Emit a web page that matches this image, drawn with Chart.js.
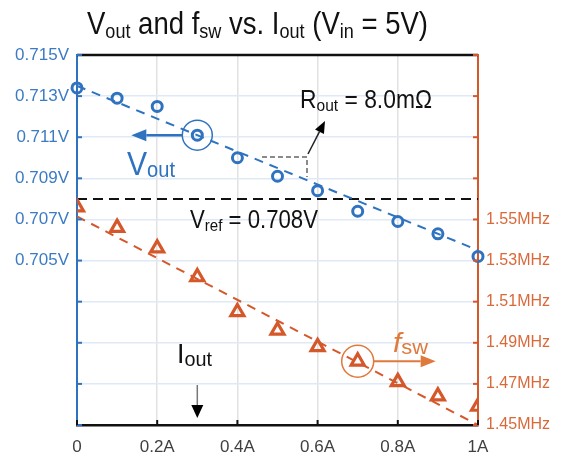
<!DOCTYPE html>
<html>
<head>
<meta charset="utf-8">
<script src="https://cdn.jsdelivr.net/npm/chart.js@4.4.0/dist/chart.umd.min.js"></script>
<style>
  html, body { margin: 0; padding: 0; background: #fff; }
  #wrap { width: 563px; height: 462px; }
</style>
</head>
<body>
<div id="wrap"><canvas id="chart"></canvas></div>
<script>
// measured data
const ioutA = [0, 0.1, 0.2, 0.3, 0.4, 0.5, 0.6, 0.7, 0.8, 0.9, 1.0];
const voutV = [0.7134, 0.7129, 0.7125, 0.7111, 0.7100, 0.7091, 0.7084, 0.7074, 0.7069, 0.7063, 0.7052];
const fswMHz = [1.556, 1.546, 1.536, 1.522, 1.505, 1.496, 1.488, 1.481, 1.471, 1.464, 1.459];

// fitted trend lines (at 0 A and 1 A) and reference
const fitI = [0, 1];
const voutFit = [0.7135, 0.7055];
const fswFit = [1.5515, 1.45];
const vref = 0.708;

// axis ticks
const xTicks = [0, 0.2, 0.4, 0.6, 0.8, 1];
const xTickLabels = ['0', '0.2A', '0.4A', '0.6A', '0.8A', '1A'];
const voltTicks = [0.697, 0.699, 0.701, 0.703, 0.705, 0.707, 0.709, 0.711, 0.713, 0.715];
const voltTickLabels = ['', '', '', '', '0.705V', '0.707V', '0.709V', '0.711V', '0.713V', '0.715V'];
const freqTicks = [1.45, 1.47, 1.49, 1.51, 1.53, 1.55, 1.57, 1.59, 1.61, 1.63];
const freqTickLabels = ['1.45MHz', '1.47MHz', '1.49MHz', '1.51MHz', '1.53MHz', '1.55MHz', '', '', '', ''];

const BLUE = '#2f73c0';
const ORANGE = '#d5582a';
const FONT = "'Liberation Sans', Arial, sans-serif";

const pts = (xs, ys) => xs.map((v, i) => ({ x: v, y: ys[i] }));

function rich(ctx, parts, x, y, targetW) {
  ctx.save();
  let w = 0;
  parts.forEach(p => {
    ctx.font = (p.it ? 'italic ' : '') + p.s + 'px ' + FONT;
    p.w = ctx.measureText(p.t).width;
    w += p.w;
  });
  ctx.translate(x, y);
  ctx.scale(targetW / w, 1);
  ctx.textBaseline = 'alphabetic';
  let cx = 0;
  parts.forEach(p => {
    ctx.font = (p.it ? 'italic ' : '') + p.s + 'px ' + FONT;
    ctx.fillStyle = p.c;
    ctx.fillText(p.t, cx, p.dy || 0);
    cx += p.w;
  });
  ctx.restore();
}

function arrow(ctx, x1, y1, x2, y2, lineCol, headCol, lw, hl, hw) {
  const ang = Math.atan2(y2 - y1, x2 - x1);
  const bx = x2 - hl * Math.cos(ang), by = y2 - hl * Math.sin(ang);
  ctx.save();
  ctx.strokeStyle = lineCol;
  ctx.lineWidth = lw;
  ctx.beginPath();
  ctx.moveTo(x1, y1);
  ctx.lineTo(bx, by);
  ctx.stroke();
  ctx.fillStyle = headCol;
  ctx.beginPath();
  ctx.moveTo(x2, y2);
  ctx.lineTo(bx + hw / 2 * Math.sin(ang), by - hw / 2 * Math.cos(ang));
  ctx.lineTo(bx - hw / 2 * Math.sin(ang), by + hw / 2 * Math.cos(ang));
  ctx.closePath();
  ctx.fill();
  ctx.restore();
}

// inward tick marks + top frame line
const frame = {
  id: 'frame',
  afterDraw(chart) {
    const { ctx, chartArea: a, scales } = chart;
    ctx.save();
    ctx.lineWidth = 2.5;
    ctx.strokeStyle = '#111';
    ctx.beginPath();
    ctx.moveTo(a.left, a.top);
    ctx.lineTo(a.right, a.top);
    ctx.stroke();
    ctx.lineWidth = 2;
    ctx.strokeStyle = BLUE;
    voltTicks.forEach(v => {
      const py = scales.y.getPixelForValue(v);
      ctx.beginPath(); ctx.moveTo(a.left, py); ctx.lineTo(a.left + 5, py); ctx.stroke();
    });
    ctx.strokeStyle = ORANGE;
    freqTicks.forEach(v => {
      const py = scales.y1.getPixelForValue(v);
      ctx.beginPath(); ctx.moveTo(a.right, py); ctx.lineTo(a.right - 5, py); ctx.stroke();
    });
    ctx.strokeStyle = '#111';
    xTicks.forEach(v => {
      const px = scales.x.getPixelForValue(v);
      ctx.beginPath(); ctx.moveTo(px, a.bottom); ctx.lineTo(px, a.bottom - 5); ctx.stroke();
    });
    ctx.restore();
  }
};

// title and callouts
const notes = {
  id: 'notes',
  afterDraw(chart) {
    const { ctx, scales: { x, y, y1 } } = chart;
    const K = '#111';

    rich(ctx, [
      { t: 'V', s: 32, c: K }, { t: 'out', s: 21, c: K, dy: 4 },
      { t: ' and f', s: 32, c: K }, { t: 'sw', s: 21, c: K, dy: 4 },
      { t: ' vs. I', s: 32, c: K }, { t: 'out', s: 21, c: K, dy: 4 },
      { t: ' (V', s: 32, c: K }, { t: 'in', s: 21, c: K, dy: 4 },
      { t: ' = 5V)', s: 32, c: K }
    ], 87, 34, 341);

    rich(ctx, [
      { t: 'R', s: 25, c: K }, { t: 'out', s: 17, c: K, dy: 3 },
      { t: ' = 8.0m\u03A9', s: 25, c: K }
    ], 300, 108, 132);

    rich(ctx, [
      { t: 'V', s: 25, c: K }, { t: 'ref', s: 17, c: K, dy: 3 },
      { t: ' = 0.708V', s: 25, c: K }
    ], 190, 228, 128);

    rich(ctx, [
      { t: 'V', s: 33, c: BLUE }, { t: 'out', s: 22, c: BLUE, dy: 2 }
    ], 127, 175, 48);

    rich(ctx, [
      { t: 'I', s: 27, c: K }, { t: 'out', s: 20, c: K, dy: 3 }
    ], 177, 363, 35);

    rich(ctx, [
      { t: 'f', s: 27, c: '#e07a3c', it: true }, { t: 'sw', s: 20, c: '#e07a3c', dy: 2 }
    ], 393, 352, 35);

    // Vout callout
    const bx = x.getPixelForValue(ioutA[3]), by = y.getPixelForValue(voutV[3]);
    ctx.save();
    ctx.strokeStyle = BLUE; ctx.lineWidth = 1.5;
    ctx.beginPath(); ctx.arc(bx, by, 15, 0, Math.PI * 2); ctx.stroke();
    ctx.restore();
    arrow(ctx, bx - 15, by, bx - 66, by, BLUE, BLUE, 2.5, 15, 12);

    // fsw callout
    const ox = x.getPixelForValue(ioutA[7]), oy = y1.getPixelForValue(fswMHz[7]);
    ctx.save();
    ctx.strokeStyle = '#e07a3c'; ctx.lineWidth = 1.5;
    ctx.beginPath(); ctx.arc(ox, oy, 16, 0, Math.PI * 2); ctx.stroke();
    ctx.restore();
    arrow(ctx, ox + 16, oy, ox + 78, oy, '#e07a3c', '#e07a3c', 2, 15, 12);

    // Iout arrow
    const ix = x.getPixelForValue(0.3);
    arrow(ctx, ix, 385, ix, 418, '#777', '#000', 1.5, 13, 12);

    // Rout slope marker
    ctx.save();
    ctx.strokeStyle = '#666'; ctx.lineWidth = 1.5; ctx.setLineDash([5, 3]);
    ctx.beginPath(); ctx.moveTo(262, 157); ctx.lineTo(307, 157); ctx.lineTo(307, 177); ctx.stroke();
    ctx.restore();
    arrow(ctx, 308, 154, 325, 121, '#222', '#000', 1.5, 12, 10);
  }
};

new Chart(document.getElementById('chart'), {
  type: 'line',
  data: {
    datasets: [
      {
        data: pts([0, 1], [vref, vref]), yAxisID: 'y',
        borderColor: '#111', borderWidth: 2, borderDash: [10, 6], pointRadius: 0, order: 5
      },
      {
        data: pts(fitI, voutFit), yAxisID: 'y',
        borderColor: BLUE, borderWidth: 2, borderDash: [9, 7], pointRadius: 0, order: 4
      },
      {
        data: pts(fitI, fswFit), yAxisID: 'y1',
        borderColor: ORANGE, borderWidth: 2, borderDash: [9, 7], pointRadius: 0, order: 4
      },
      {
        data: pts(ioutA, voutV), yAxisID: 'y', showLine: false,
        pointStyle: 'circle', pointRadius: 5, pointBorderWidth: 3,
        pointBorderColor: BLUE, pointBackgroundColor: 'rgba(0,0,0,0)', clip: false, order: 1
      },
      {
        data: pts(ioutA, fswMHz), yAxisID: 'y1', showLine: false,
        pointStyle: 'triangle', pointRadius: 7.5, pointBorderWidth: 3.2,
        pointBorderColor: ORANGE, pointBackgroundColor: 'rgba(0,0,0,0)', order: 1
      }
    ]
  },
  options: {
    responsive: true,
    maintainAspectRatio: false,
    animation: false,
    layout: { padding: { top: 55, left: 0, right: 0, bottom: 0 } },
    plugins: { legend: { display: false }, tooltip: { enabled: false } },
    scales: {
      x: {
        type: 'linear', min: 0, max: 1,
        afterBuildTicks: s => { s.ticks = xTicks.map(v => ({ value: v })); },
        afterFit: s => { s.height = 37; },
        ticks: {
          callback: (v, i) => xTickLabels[i],
          color: '#404040', font: { family: FONT, size: 17 }, padding: 12, maxRotation: 0
        },
        grid: { color: '#e2e2e2', lineWidth: 1.5, drawTicks: false },
        border: { color: '#111', width: 2.5 }
      },
      y: {
        type: 'linear', position: 'left', min: 0.697, max: 0.715,
        afterBuildTicks: s => { s.ticks = voltTicks.map(v => ({ value: v })); },
        afterFit: s => { s.width = 77; },
        ticks: {
          callback: (v, i) => voltTickLabels[i],
          color: '#3b7bc4', font: { family: FONT, size: 17 }, padding: 8
        },
        grid: { color: '#dfeaf6', lineWidth: 1.5, drawTicks: false },
        border: { color: BLUE, width: 2 }
      },
      y1: {
        type: 'linear', position: 'right', min: 1.45, max: 1.63,
        afterBuildTicks: s => { s.ticks = freqTicks.map(v => ({ value: v })); },
        afterFit: s => { s.width = 85; },
        ticks: {
          callback: (v, i) => freqTickLabels[i],
          color: '#d9693a', font: { family: FONT, size: 16 }, padding: 8
        },
        grid: { drawOnChartArea: false, drawTicks: false },
        border: { color: ORANGE, width: 2 }
      }
    }
  },
  plugins: [frame, notes]
});
</script>
</body>
</html>
